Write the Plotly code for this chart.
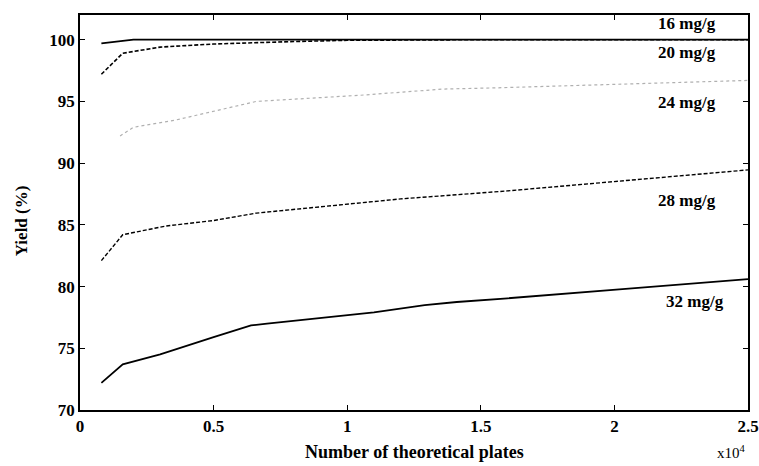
import plotly.graph_objects as go

# Number of theoretical plates
plates_16 = [800, 2000, 5000, 10000, 15000, 20000, 25000]
yield_16 = [99.7, 100.0, 100.0, 100.0, 100.0, 100.0, 100.0]

plates_20 = [800, 1600, 3000, 5000, 8000, 10000, 15000, 20000, 25000]
yield_20 = [97.2, 98.9, 99.4, 99.65, 99.85, 99.95, 100.0, 100.0, 100.0]

plates_24 = [1500, 2000, 3600, 4600, 5700, 6600, 10500, 13600, 15600, 22000, 25000]
yield_24 = [92.2, 92.9, 93.5, 94.0, 94.6, 95.0, 95.5, 96.0, 96.1, 96.5, 96.7]

plates_28 = [800, 1600, 3200, 5000, 6600, 12000, 16000, 20000, 25000]
yield_28 = [82.1, 84.2, 84.9, 85.35, 85.95, 87.1, 87.75, 88.5, 89.45]

plates_32 = [800, 1600, 3000, 3700, 5000, 6400, 7000, 11000, 12900, 14100, 16000, 20300, 25000]
yield_32 = [72.2, 73.7, 74.5, 75.0, 75.9, 76.85, 77.0, 77.9, 78.5, 78.75, 79.05, 79.8, 80.6]

series_labels = ["16 mg/g", "20 mg/g", "24 mg/g", "28 mg/g", "32 mg/g"]
label_x = [22700, 22700, 22700, 22700, 23000]
label_y = [101.3, 99.0, 94.9, 87.0, 78.8]

x_tickvals = [0, 5000, 10000, 15000, 20000, 25000]
x_ticktext = ["0", "0.5", "1", "1.5", "2", "2.5"]
y_tickvals = [70, 75, 80, 85, 90, 95, 100]
y_ticktext = ["70", "75", "80", "85", "90", "95", "100"]

FONT = "Liberation Serif"

fig = go.Figure()
styles = [
    (plates_16, yield_16, "black", "solid", 1.8),
    (plates_20, yield_20, "black", "4px,2px", 1.6),
    (plates_24, yield_24, "#b0b0b0", "dot", 1.2),
    (plates_28, yield_28, "black", "4px,2px", 1.4),
    (plates_32, yield_32, "black", "solid", 1.8),
]
for (xs, ys, col, dash, w), name in zip(styles, series_labels):
    fig.add_trace(go.Scatter(x=xs, y=ys, mode="lines", name=name,
                             line=dict(color=col, dash=dash, width=w),
                             showlegend=False))

for t, lx, ly in zip(series_labels, label_x, label_y):
    fig.add_annotation(x=lx, y=ly, text="<b>" + t + "</b>", showarrow=False,
                       font=dict(family=FONT, size=17, color="black"))

# exponent note and axis titles
fig.add_annotation(xref="paper", yref="paper", x=1.0, y=-0.106, text="x10<sup>4</sup>",
                   showarrow=False, xanchor="right", yanchor="middle",
                   font=dict(family=FONT, size=15, color="black"))
fig.add_annotation(xref="paper", yref="paper", x=0.5, y=-0.106,
                   text="<b>Number of theoretical plates</b>",
                   showarrow=False, xanchor="center", yanchor="middle",
                   font=dict(family=FONT, size=18, color="black"))
fig.add_annotation(xref="paper", yref="paper", x=-0.087, y=0.48,
                   text="<b>Yield (%)</b>", textangle=-90,
                   showarrow=False, xanchor="center", yanchor="middle",
                   font=dict(family=FONT, size=17, color="black"))

axis_common = dict(showgrid=False, zeroline=False, showline=True, linecolor="black",
                   linewidth=1.6, mirror="allticks", ticks="inside", ticklen=5,
                   tickcolor="black", automargin=False,
                   tickfont=dict(family=FONT, size=17, color="black", weight="bold"))

fig.update_xaxes(range=[0, 25000], tickvals=x_tickvals, ticktext=x_ticktext, **axis_common)
fig.update_yaxes(range=[70, 102], tickvals=y_tickvals, ticktext=y_ticktext, **axis_common)

fig.update_layout(width=759, height=466, margin=dict(l=80, r=11, t=15, b=56),
                  plot_bgcolor="white", paper_bgcolor="white")

fig.write_html("out.html", config={"displayModeBar": False},
               post_script="document.body.style.margin='0px';document.body.style.overflow='hidden';")
